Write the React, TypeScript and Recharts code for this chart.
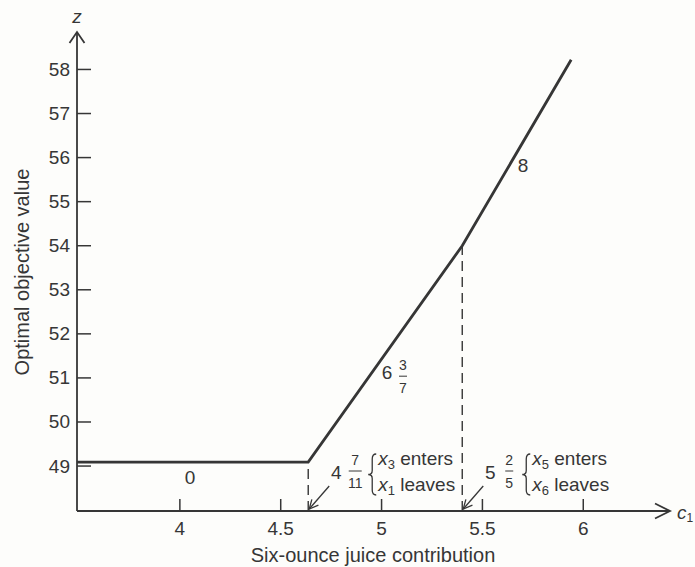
import { LineChart, Line, XAxis, YAxis, ReferenceLine, ReferenceDot } from "recharts"

// piecewise-linear optimal value z as a function of c1
const breakC = [3.49, 4 + 7 / 11, 5.4, 5.94]
const breakZ = [49.09, 49.09, 54.0, 58.22]
const xTicks = [4, 4.5, 5, 5.5, 6]
const yTicks = [49, 50, 51, 52, 53, 54, 55, 56, 57, 58]
const xDomain = [3.49, 6.43]
const yDomain = [47.98, 58.85]

// slope labels on each piece
const slopeWhole = ["0", "6", "8"]
const slopeFrac = [null, ["3", "7"], null]
const slopeAt = [
  { c: 4.05, z: 48.75 },
  { c: 5.027, z: 51.13 },
  { c: 5.701, z: 55.81 },
]

// basis-change notes at the breakpoints
const noteWhole = ["4", "5"]
const noteFrac = [["7", "11"], ["2", "5"]]
const noteEnter = ["3", "5"]
const noteLeave = ["1", "6"]

const data = breakC.map((c, i) => ({ c, z: breakZ[i] }))

const INK = "#363636"
const FONT = "'Liberation Sans', Arial, Helvetica, sans-serif"
const FS = 19
const FS_FRAC = 14

const txt = {
  fill: INK,
  fontFamily: FONT,
  fontSize: FS,
  dominantBaseline: "central" as const,
}

function Frac({ x, y, num, den }: { x: number; y: number; num: string; den: string }) {
  const w = den.length > 1 ? 13 : 8
  return (
    <g>
      <text {...txt} fontSize={FS_FRAC} x={x} y={y - 11} textAnchor="middle">{num}</text>
      <line x1={x - w / 2} x2={x + w / 2} y1={y} y2={y} stroke={INK} strokeWidth={1} />
      <text {...txt} fontSize={FS_FRAC} x={x} y={y + 12} textAnchor="middle">{den}</text>
    </g>
  )
}

function Pointer({ x1, y1, x2, y2 }: { x1: number; y1: number; x2: number; y2: number }) {
  const a = Math.atan2(y2 - y1, x2 - x1)
  const L = 10
  const s = 0.45
  const p1 = `${x2 - L * Math.cos(a - s)},${y2 - L * Math.sin(a - s)}`
  const p2 = `${x2 - L * Math.cos(a + s)},${y2 - L * Math.sin(a + s)}`
  return (
    <g stroke={INK} strokeWidth={1.3} fill="none">
      <line x1={x1} y1={y1} x2={x2} y2={y2} />
      <polyline points={`${p1} ${x2},${y2} ${p2}`} />
    </g>
  )
}

function Brace({ x, top, bottom }: { x: number; top: number; bottom: number }) {
  const mid = (top + bottom) / 2
  const d = `M ${x + 5} ${top} Q ${x + 1} ${top} ${x + 1} ${top + 5} L ${x + 1} ${mid - 4} Q ${x + 1} ${mid} ${x - 3} ${mid} Q ${x + 1} ${mid} ${x + 1} ${mid + 4} L ${x + 1} ${bottom - 5} Q ${x + 1} ${bottom} ${x + 5} ${bottom}`
  return <path d={d} fill="none" stroke={INK} strokeWidth={1.3} />
}

function VarText({ x, y, sub, word }: { x: number; y: number; sub: string; word: string }) {
  return (
    <text {...txt} x={x} y={y}>
      <tspan fontStyle="italic">x</tspan>
      <tspan fontSize={13} dy={6}>{sub}</tspan>
      <tspan dy={-6}>{" " + word}</tspan>
    </text>
  )
}

const noteShape = (i: number) => (p: any) => {
  const { cx, cy } = p
  return (
    <g>
      <text {...txt} x={cx + 28} y={cy - 39} textAnchor="middle">{noteWhole[i]}</text>
      <Frac x={cx + 47} y={cy - 40} num={noteFrac[i][0]} den={noteFrac[i][1]} />
      <Brace x={cx + 63} top={cy - 57} bottom={cy - 16} />
      <VarText x={cx + 70} y={cy - 53} sub={noteEnter[i]} word="enters" />
      <VarText x={cx + 70} y={cy - 27} sub={noteLeave[i]} word="leaves" />
      <Pointer x1={cx + 21} y1={cy - 25} x2={cx + 1} y2={cy - 2} />
    </g>
  )
}

const slopeShape = (i: number) => (p: any) => {
  const { cx, cy } = p
  const f = slopeFrac[i]
  return (
    <g>
      <text {...txt} x={cx} y={cy} textAnchor="middle">{slopeWhole[i]}</text>
      {f && <Frac x={cx + 16} y={cy + 4} num={f[0]} den={f[1]} />}
    </g>
  )
}

const yArrow = (p: any) => (
  <g>
    <polyline
      points={`${p.cx - 7.5},${p.cy + 11} ${p.cx},${p.cy} ${p.cx + 7.5},${p.cy + 11}`}
      fill="none"
      stroke={INK}
      strokeWidth={1.8}
    />
    <text {...txt} x={p.cx} y={p.cy - 16} textAnchor="middle" fontStyle="italic">z</text>
  </g>
)

const xArrow = (p: any) => (
  <g>
    <polyline
      points={`${p.cx - 15},${p.cy - 7.5} ${p.cx},${p.cy} ${p.cx - 15},${p.cy + 7.5}`}
      fill="none"
      stroke={INK}
      strokeWidth={1.8}
    />
    <text {...txt} x={p.cx + 7} y={p.cy + 1}>
      <tspan fontStyle="italic">c</tspan>
      <tspan fontSize={12} dy={6}>1</tspan>
    </text>
  </g>
)

const XTick = (p: any) => (
  <g>
    <line x1={p.x} y1={p.y} x2={p.x} y2={p.y - 12} stroke={INK} strokeWidth={1.5} />
    <text {...txt} x={p.x} y={p.y + 17} textAnchor="middle">{p.payload.value}</text>
  </g>
)

const YTick = (p: any) => (
  <g>
    <line x1={p.x} y1={p.y} x2={p.x + 14} y2={p.y} stroke={INK} strokeWidth={1.5} />
    <text {...txt} x={p.x - 7} y={p.y} textAnchor="end">{p.payload.value}</text>
  </g>
)

export default function App() {
  return (
    <div style={{ position: "absolute", left: 0, top: 0, width: 695, height: 567, background: "#fdfdfb" }}>
      <LineChart width={695} height={567} data={data} margin={{ top: 32, right: 25, bottom: 0, left: 0 }}>
        <XAxis
          dataKey="c"
          type="number"
          domain={xDomain}
          ticks={xTicks}
          allowDataOverflow
          height={56}
          tickSize={0}
          tickMargin={0}
          tickLine={false}
          axisLine={{ stroke: INK, strokeWidth: 1.8 }}
          tick={XTick}
          label={() => (
            <text {...txt} fontSize={20} x={373} y={555} textAnchor="middle">
              Six-ounce juice contribution
            </text>
          )}
        />
        <YAxis
          type="number"
          domain={yDomain}
          ticks={yTicks}
          allowDataOverflow
          width={77}
          tickSize={0}
          tickMargin={0}
          tickLine={false}
          axisLine={{ stroke: INK, strokeWidth: 1.8 }}
          tick={YTick}
          label={() => (
            <text {...txt} fontSize={20} x={22} y={272} textAnchor="middle" transform="rotate(-90 22 272)">
              Optimal objective value
            </text>
          )}
        />
        <ReferenceLine
          segment={[{ x: breakC[1], y: yDomain[0] }, { x: breakC[1], y: breakZ[1] }]}
          stroke={INK}
          strokeWidth={1.4}
          strokeDasharray="10 6"
        />
        <ReferenceLine
          segment={[{ x: breakC[2], y: yDomain[0] }, { x: breakC[2], y: breakZ[2] }]}
          stroke={INK}
          strokeWidth={1.4}
          strokeDasharray="10 6"
        />
        <Line
          type="linear"
          dataKey="z"
          stroke={INK}
          strokeWidth={2.8}
          dot={false}
          isAnimationActive={false}
        />
        {slopeAt.map((s, i) => (
          <ReferenceDot key={`s${i}`} x={s.c} y={s.z} r={0} ifOverflow="visible" shape={slopeShape(i)} />
        ))}
        <ReferenceDot x={breakC[1]} y={yDomain[0]} r={0} ifOverflow="visible" shape={noteShape(0)} />
        <ReferenceDot x={breakC[2]} y={yDomain[0]} r={0} ifOverflow="visible" shape={noteShape(1)} />
        <ReferenceDot x={xDomain[0]} y={yDomain[1]} r={0} ifOverflow="visible" shape={yArrow} />
        <ReferenceDot x={xDomain[1]} y={yDomain[0]} r={0} ifOverflow="visible" shape={xArrow} />
      </LineChart>
    </div>
  )
}
